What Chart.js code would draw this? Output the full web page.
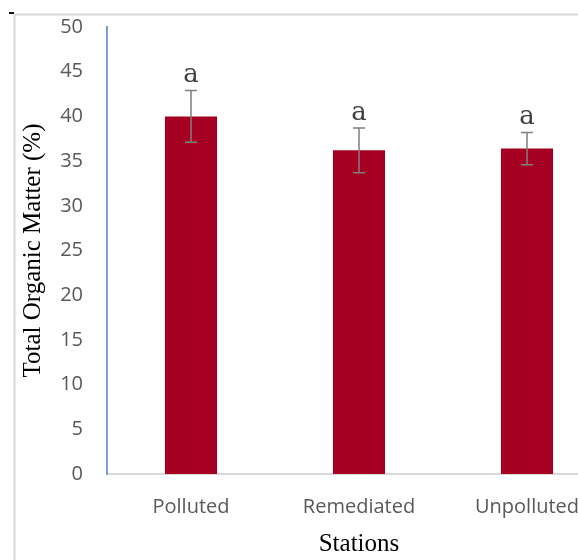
<!DOCTYPE html>
<html>
<head>
<meta charset="utf-8">
<script src="https://cdn.jsdelivr.net/npm/chart.js@4/dist/chart.umd.min.js"></script>
<style>
html, body { margin: 0; padding: 0; background: #fff; overflow: hidden; }
#wrap { width: 578px; height: 560px; overflow: hidden; position: relative; }
#wrap canvas { display: block; }
</style>
</head>
<body>
<div id="wrap"><canvas id="c" width="620" height="560" style="width:620px;height:560px"></canvas></div>
<script>
const categories = ['Polluted', 'Remediated', 'Unpolluted'];
const meanValues = [40.0, 36.2, 36.4];
const errorValues = [2.9, 2.5, 1.8];
const groupLetters = ['a', 'a', 'a'];
const yMin = 0, yMax = 50, yStep = 5;

const framePlugin = {
  id: 'frame',
  beforeDraw(chart) {
    const ctx = chart.ctx;
    ctx.save();
    ctx.strokeStyle = '#d9d9d9';
    ctx.lineWidth = 2;
    ctx.beginPath();
    ctx.moveTo(14.5, chart.height);
    ctx.lineTo(14.5, 14.5);
    ctx.lineTo(chart.width, 14.5);
    ctx.stroke();
    ctx.fillStyle = '#111';
    ctx.fillRect(9, 12, 5, 2);
    ctx.restore();
  }
};

const errorBarPlugin = {
  id: 'errorBars',
  afterDatasetsDraw(chart) {
    const ctx = chart.ctx;
    const y = chart.scales.y;
    const meta = chart.getDatasetMeta(0);
    ctx.save();
    meta.data.forEach((bar, i) => {
      const x = bar.x;
      const top = y.getPixelForValue(meanValues[i] + errorValues[i]);
      const bot = y.getPixelForValue(meanValues[i] - errorValues[i]);
      ctx.strokeStyle = '#7f7f7f';
      ctx.lineWidth = 1.5;
      ctx.beginPath();
      ctx.moveTo(x, top); ctx.lineTo(x, bot);
      ctx.moveTo(x - 6, top); ctx.lineTo(x + 6, top);
      ctx.moveTo(x - 6, bot); ctx.lineTo(x + 6, bot);
      ctx.stroke();
      ctx.fillStyle = '#404040';
      ctx.font = '26px "DejaVu Serif", serif';
      ctx.textAlign = 'center';
      ctx.textBaseline = 'alphabetic';
      ctx.fillText(groupLetters[i], x, top - 8);
    });
    ctx.restore();
  }
};

new Chart(document.getElementById('c'), {
  type: 'bar',
  data: {
    labels: categories,
    datasets: [{
      data: meanValues,
      backgroundColor: '#a50021',
      borderWidth: 0,
      barPercentage: 0.31,
      categoryPercentage: 1.0
    }]
  },
  options: {
    responsive: false,
    animation: false,
    devicePixelRatio: 1,
    layout: { padding: { left: 15, right: 9, top: 27, bottom: 0 } },
    plugins: { legend: { display: false }, tooltip: { enabled: false } },
    scales: {
      x: {
        grid: { display: false, drawTicks: false },
        border: { display: true, color: '#d9d9d9', width: 2 },
        ticks: { color: '#595959', font: { family: '"Open Sans", sans-serif', size: 20 }, padding: 21 },
        title: { display: true, text: 'Stations', color: '#000', font: { family: '"Liberation Serif", serif', size: 25, lineHeight: 1.2 }, padding: { top: 0, bottom: 1 } },
        afterFit(scale) { scale.height = 86; }
      },
      y: {
        min: yMin, max: yMax,
        grid: { display: false, drawTicks: false },
        border: { display: true, color: '#7ba0d6', width: 2 },
        ticks: { stepSize: yStep, color: '#595959', font: { family: '"Open Sans", sans-serif', size: 20 }, padding: 24 },
        title: { display: true, text: 'Total Organic Matter (%)', color: '#000', font: { family: '"Liberation Serif", serif', size: 25, lineHeight: 1.2 }, padding: { top: 3, bottom: 0 } },
        afterFit(scale) { scale.width = 92; scale.paddingTop = 10; scale.paddingBottom = 10; }
      }
    }
  },
  plugins: [framePlugin, errorBarPlugin]
});
</script>
</body>
</html>
